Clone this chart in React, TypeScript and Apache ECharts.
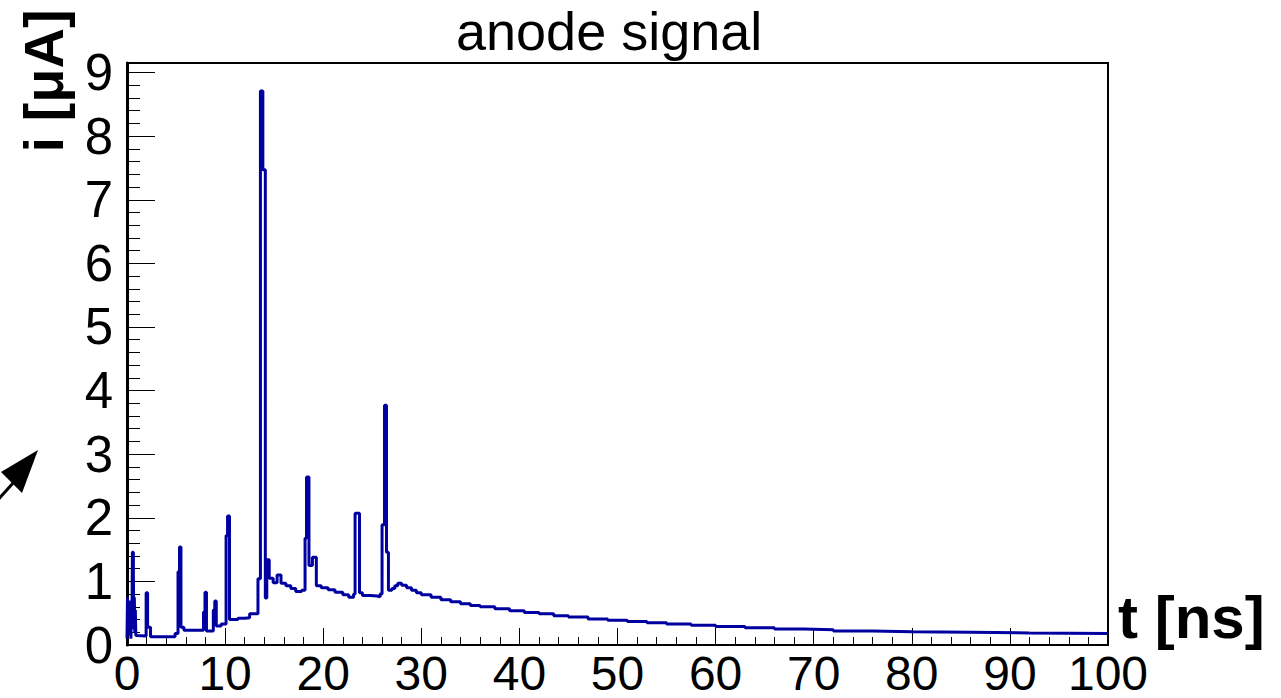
import React, { useEffect, useRef } from "react";
import * as echarts from "echarts";

// time in ns (bin start) and anode current in µA
const timeNs = [
  0, 0.05, 0.1, 0.15, 0.2, 0.25, 0.3, 0.35, 0.4, 0.45, 0.5, 0.55, 0.65, 0.7, 0.75, 0.8, 0.85, 0.9, 1.0,
  1.95, 2.1, 2.4, 4.9, 5.2, 5.35, 5.5, 5.8, 7.8, 7.95, 8.1, 8.8, 8.95, 9.1, 9.6,
  10.1, 10.25, 10.45, 11.3, 12.0, 12.5, 13.35, 13.6, 13.85, 14.1, 14.25, 14.5, 14.9,
  15.3, 15.7, 16.2, 16.7, 17.2, 17.8, 18.15, 18.3, 18.55, 18.9, 19.3, 19.8,
  20.5, 21.2, 22.0, 22.6, 23.1, 23.25, 23.7, 24.0, 24.8, 25.5, 25.8, 26.0, 26.25, 26.45, 26.65,
  27.0, 27.3, 27.6, 28.0, 28.5, 29, 29.5, 30, 31, 32, 33, 34, 35, 36, 37.5, 39, 40.5, 42, 43.5,
  45, 47, 49, 51, 53, 55, 57.5, 60, 63, 66, 69, 72, 76, 80, 86, 92, 100,
];
const currentUA = [
  0.1, 0.75, 0.2, 0.6, 0.15, 0.7, 0.3, 0.5, 0.1, 0.65, 0.25, 1.46, 1.1, 0.3, 0.75, 0.2, 0.55, 0.15, 0.14,
  0.82, 0.28, 0.13, 0.18, 1.15, 1.54, 0.28, 0.23, 0.52, 0.83, 0.22, 0.55, 0.69, 0.3, 0.33,
  1.72, 2.03, 0.4, 0.42, 0.43, 0.49, 1.04, 8.71, 7.47, 0.74, 1.34, 1.05, 0.98,
  1.1, 0.97, 0.93, 0.89, 0.84, 0.86, 1.68, 2.64, 1.25, 1.38, 0.93, 0.9,
  0.87, 0.83, 0.79, 0.75, 0.8, 2.07, 0.82, 0.78, 0.77, 0.76, 0.8, 1.89, 3.77, 1.46, 0.86,
  0.89, 0.93, 0.97, 0.94, 0.9, 0.86, 0.82, 0.79, 0.75, 0.71, 0.68, 0.65, 0.62, 0.6, 0.57, 0.54, 0.51, 0.49, 0.46,
  0.44, 0.41, 0.39, 0.37, 0.35, 0.33, 0.31, 0.29, 0.27, 0.25, 0.24, 0.22, 0.21, 0.2, 0.19, 0.18, 0.18,
];

const TITLE = "anode signal";
const X_TITLE = "t [ns]";
const Y_TITLE = "i [μA]";

export default function App() {
  const ref = useRef<HTMLDivElement>(null);
  useEffect(() => {
    if (!ref.current) return;
    const chart = echarts.init(ref.current, undefined, { renderer: "svg" });
    const font = "Liberation Sans";
    const data = timeNs.map((t, k) => [t, currentUA[k]]);
    chart.setOption({
      animation: false,
      backgroundColor: "#fff",
      title: {
        text: TITLE,
        left: 456,
        top: 0,
        padding: 0,
        textStyle: { fontFamily: font, fontSize: 54, fontWeight: "normal", color: "#000", lineHeight: 62 },
      },
      grid: {
        left: 127,
        right: 173,
        top: 63,
        bottom: 53,
        show: true,
        borderColor: "#000",
        borderWidth: 2,
        backgroundColor: "#fff",
      },
      xAxis: {
        type: "value",
        min: 0,
        max: 100,
        interval: 10,
        name: X_TITLE,
        nameLocation: "end",
        nameGap: 10,
        nameTextStyle: {
          fontFamily: font,
          fontSize: 60,
          fontWeight: "bold",
          color: "#000",
          verticalAlign: "bottom",
          align: "left",
          lineHeight: 56,
        },
        axisLine: { show: true, lineStyle: { color: "#000", width: 2 } },
        axisTick: { show: true, inside: true, length: 17, lineStyle: { color: "#000", width: 1 } },
        minorTick: { show: true, splitNumber: 5, length: 8, lineStyle: { color: "#000", width: 1 } },
        splitLine: { show: false },
        axisLabel: { fontFamily: font, fontSize: 48, color: "#000", margin: 4 },
      },
      yAxis: {
        type: "value",
        min: 0,
        max: 9.15,
        interval: 1,
        axisLine: { show: true, lineStyle: { color: "#000", width: 3 } },
        axisTick: { show: true, inside: true, length: 28, lineStyle: { color: "#000", width: 1 } },
        minorTick: { show: true, splitNumber: 5, length: 13, lineStyle: { color: "#000", width: 1 } },
        splitLine: { show: false },
        axisLabel: { fontFamily: font, fontSize: 51, color: "#000", margin: 14, showMaxLabel: false },
      },
      graphic: [
        {
          type: "text",
          x: 43,
          y: 81,
          rotation: Math.PI / 2,
          style: {
            text: Y_TITLE,
            fontFamily: font,
            fontSize: 56,
            fontWeight: "bold",
            fill: "#000",
            align: "center",
            verticalAlign: "middle",
          },
        },
        {
          type: "group",
          children: [
            {
              type: "line",
              shape: { x1: -4, y1: 502, x2: 14, y2: 482 },
              style: { stroke: "#000", lineWidth: 3 },
            },
            {
              type: "polygon",
              shape: { points: [[38, 450], [1, 472], [22, 493]] },
              style: { fill: "#000" },
            },
          ],
        },
      ],
      series: [
        {
          type: "line",
          step: "end",
          data,
          symbol: "none",
          lineStyle: { color: "#0000a0", width: 3 },
          clip: true,
        },
      ],
    });
    return () => chart.dispose();
  }, []);
  return (
    <div
      ref={ref}
      style={{ position: "absolute", left: 0, top: 0, width: 1281, height: 698 }}
    />
  );
}
